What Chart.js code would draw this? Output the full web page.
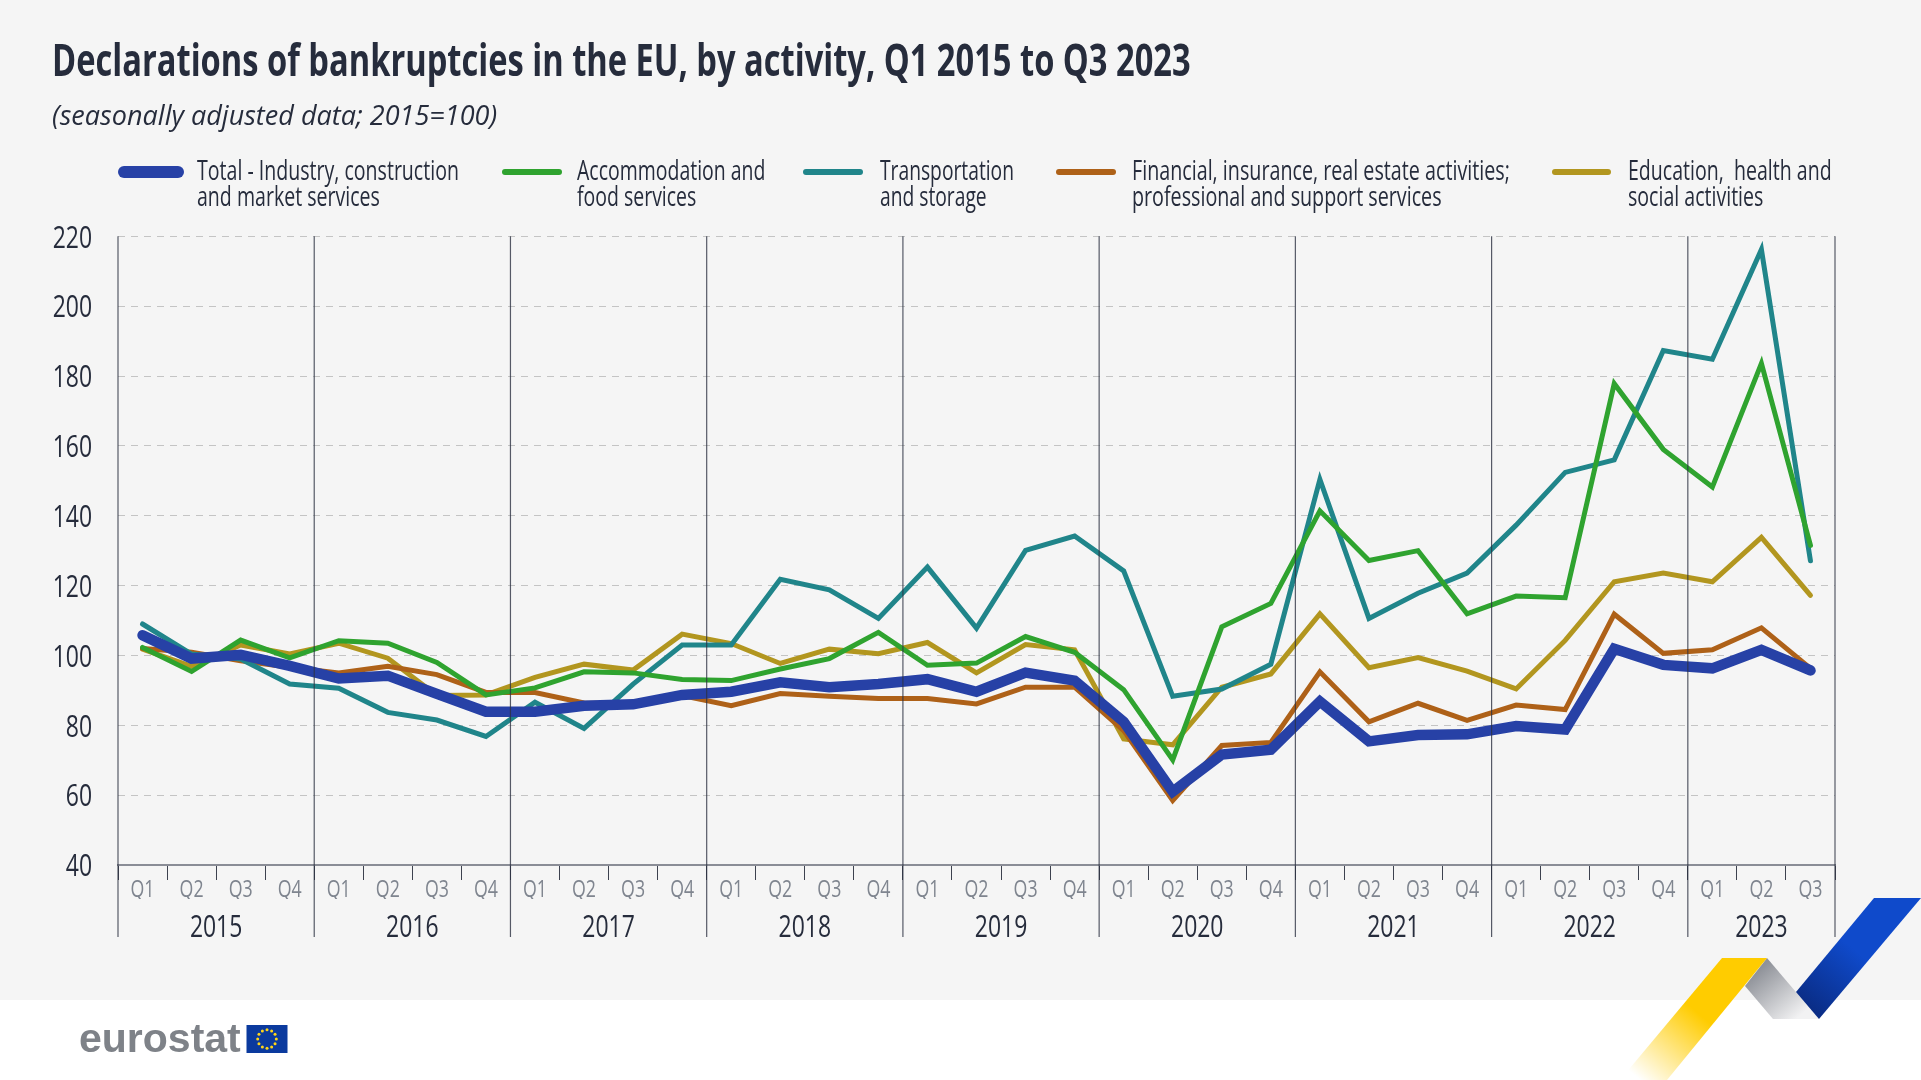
<!DOCTYPE html>
<html><head><meta charset="utf-8">
<script src="https://cdn.jsdelivr.net/npm/chart.js@4"></script>
<style>
html,body{margin:0;padding:0;width:1921px;height:1080px;overflow:hidden;background:#fff}
#bg{position:absolute;left:0;top:0;width:1921px;height:1000px;background:#f5f5f5}
canvas{position:absolute;left:0;top:0}
.t{position:absolute;white-space:pre;transform-origin:0 50%;font-family:"Open Sans",sans-serif;color:#262c3c}
#title{left:52px;top:29px;font-size:45px;font-weight:700;line-height:60px}
#sub{left:52px;top:95px;font-size:28px;font-style:italic;line-height:38px}
.leg{font-size:28px;line-height:26px;top:156px}
.sw{position:absolute;border-radius:6px}
#logo{position:absolute;left:79px;top:1015px;font:bold 41px/47px "Liberation Sans",sans-serif;color:#7e8288}
svg{position:absolute;left:0;top:0}
</style></head><body>
<div id="bg"></div>
<svg width="1921" height="1080" viewBox="0 0 1921 1080">
<defs>
<linearGradient id="gy" gradientUnits="userSpaceOnUse" x1="1745" y1="958" x2="1640" y2="1080"><stop offset="0" stop-color="#ffcc00"/><stop offset=".45" stop-color="#ffcc00"/><stop offset="1" stop-color="#ffcc00" stop-opacity="0"/></linearGradient>
<linearGradient id="gg" gradientUnits="userSpaceOnUse" x1="1756" y1="972" x2="1796" y2="1019"><stop offset="0" stop-color="#8f9299"/><stop offset="1" stop-color="#f2f2f3"/></linearGradient>
<linearGradient id="gb" gradientUnits="userSpaceOnUse" x1="1855" y1="950" x2="1808" y2="1006"><stop offset="0" stop-color="#0f4acb"/><stop offset="1" stop-color="#0a2d86"/></linearGradient>
</defs>
<polygon points="1767,958 1819,1019 1773,1019 1745,986" fill="url(#gg)"/>
<polygon points="1722,958 1767,958 1667,1080 1620,1080" fill="url(#gy)"/>
<polygon points="1874,898 1921,898 1819,1019 1796,992" fill="url(#gb)"/>
<rect x="246.5" y="1025" width="41" height="28" fill="#0b3a9e"/>
<g id="stars" fill="#ffd617"></g>
</svg>
<canvas id="c" width="1921" height="1080"></canvas>
<div class="t" id="title" data-w="1139">Declarations of bankruptcies in the EU, by activity, Q1 2015 to Q3 2023</div>
<div class="t" id="sub" data-w="445">(seasonally adjusted data; 2015=100)</div>
<div id="legend"></div>
<div id="logo">eurostat</div>
<script>
const quarterLabels=['Q1','Q2','Q3','Q4','Q1','Q2','Q3','Q4','Q1','Q2','Q3','Q4','Q1','Q2','Q3','Q4','Q1','Q2','Q3','Q4','Q1','Q2','Q3','Q4','Q1','Q2','Q3','Q4','Q1','Q2','Q3','Q4','Q1','Q2','Q3'];
const yearLabels=['2015','2016','2017','2018','2019','2020','2021','2022','2023'];
const yearCenters=[2,6,10,14,18,22,26,30,33.5];
const yearEdges=[0,4,8,12,16,20,24,28,32,35];
const total=[105.8,99.1,100.2,97,93.4,94.2,89,83.9,83.9,85.6,86,88.7,89.6,92.3,90.9,91.8,93.2,89.6,95.1,92.8,81,61,71.6,73,86.8,75.4,77.2,77.4,79.8,78.8,101.9,97.3,96.3,101.6,95.7];
const accommodation=[102.3,95.4,104.4,99.3,104.2,103.5,98,88.7,90.7,95.3,95,93.1,92.8,96.1,99.1,106.6,97.2,97.8,105.4,100.9,90.2,70.1,108.2,114.9,141.4,127.2,130,111.9,117,116.5,177.8,159,148.2,183.6,131.5];
const transportation=[109,100.4,99,91.8,90.6,83.7,81.5,76.8,86.6,79.1,91.8,103,103,121.8,118.8,110.6,125.3,107.8,130.1,134.2,124.2,88.3,90.4,97.5,150.4,110.6,117.8,123.6,137.3,152.4,156,187.3,184.8,216.2,127.1];
const financial=[102,100.9,98.5,96.6,95,96.9,94.5,89.4,89.4,86.4,86,88.5,85.6,89.1,88.3,87.7,87.7,86.1,90.9,90.9,78.5,58.5,74.2,75.1,95.3,81,86.3,81.4,85.8,84.5,111.8,100.6,101.6,107.9,96.3];
const education=[101.8,96.9,103,100.4,103.5,99.2,88.5,88.7,93.7,97.5,95.8,106.1,103.4,97.7,101.8,100.5,103.7,95,103.1,101.6,76.1,74.4,90.9,94.7,111.9,96.5,99.4,95.5,90.4,104.3,121.1,123.6,121.1,133.8,117.2];
const seriesLabels=[['Total - Industry, construction','and market services'],['Accommodation and','food services'],['Transportation','and storage'],['Financial, insurance, real estate activities;','professional and support services'],['Education,  health and','social activities']];
const seriesColors=['#2741a6','#2fa32f','#20858a','#ae6118','#b2961f'];
const seriesWidths=[10.5,5,5,5,5];
const seriesValues=[total,accommodation,transportation,financial,education];

// legend layout: swatch left, swatch width, text left, first-line width
const legendBoxes=[[118,66,197,262],[502,60,577,188.5],[803,60,880,134],[1056,60,1132,378],[1552,59,1628,204]];
const legend=document.getElementById('legend');
seriesLabels.forEach((lines,i)=>{
  const b=legendBoxes[i],h=i===0?12:6;
  const s=document.createElement('div');s.className='sw';
  s.style.cssText=`left:${b[0]}px;width:${b[1]}px;height:${h}px;top:${172-h/2}px;background:${seriesColors[i]}`;
  legend.appendChild(s);
  const t=document.createElement('div');t.className='t leg';t.textContent=lines.join('\n');
  t.style.left=b[2]+'px';legend.appendChild(t);
  const m=document.createElement('span');m.className='t leg';m.style.visibility='hidden';m.textContent=lines[0];legend.appendChild(m);
  t.style.transform=`scaleX(${b[3]/m.offsetWidth})`;
  m.remove();
});
document.querySelectorAll('[data-w]').forEach(e=>{e.style.transform=`scaleX(${e.dataset.w/e.offsetWidth})`});

// EU flag stars
const stars=document.getElementById('stars');
for(let i=0;i<12;i++){const a=i*Math.PI/6;
  const c=document.createElementNS('http://www.w3.org/2000/svg','circle');
  c.setAttribute('cx',267+9.3*Math.cos(a));c.setAttribute('cy',1039+9.3*Math.sin(a));c.setAttribute('r',1.5);stars.appendChild(c);}

const sansFont='"Open Sans",sans-serif';
const textCondense=0.74;
// the reference uses a condensed face: narrow every axis label around its anchor point
const condensed={id:'condensed',beforeDraw(ch){
  const ctx=ch.ctx; if(ctx._narrowed) return; ctx._narrowed=true;
  const fill=ctx.fillText.bind(ctx);
  ctx.fillText=(s,x,y,m)=>{
    ctx.save();
    ctx.translate(x,y+(ctx.textAlign==='right'?2.5:0));
    ctx.scale(textCondense,1);
    fill(s,0,0,m);
    ctx.restore();
  };
}};
const yearLines={id:'yearLines',afterDatasetsDraw(ch){
  const {ctx,chartArea:a,scales:{xYear}}=ch;
  ctx.save();ctx.strokeStyle='rgba(45,50,66,.8)';ctx.lineWidth=1.2;
  yearEdges.forEach(v=>{const x=xYear.getPixelForValue(v);ctx.beginPath();ctx.moveTo(x,a.top);ctx.lineTo(x,937);ctx.stroke();});
  ctx.restore();
}};
new Chart(document.getElementById('c'),{
  type:'line',
  data:{labels:quarterLabels,datasets:seriesValues.map((d,i)=>({label:seriesLabels[i].join(' '),data:d,borderColor:seriesColors[i],backgroundColor:seriesColors[i],borderWidth:seriesWidths[i],pointRadius:0,tension:0,borderCapStyle:'round',borderJoinStyle:'miter'}))},
  plugins:[condensed,yearLines],
  options:{responsive:false,animation:false,devicePixelRatio:1,
    layout:{padding:{left:0,top:236.3,right:86,bottom:135}},
    plugins:{legend:{display:false},tooltip:{enabled:false},title:{display:false}},
    scales:{
      y:{min:40,max:220,afterFit(s){s.width=118},
        ticks:{stepSize:20,padding:26,color:'#262c3c',font:{family:sansFont,size:31}},
        grid:{color:'#c4c4c4',lineWidth:1,drawTicks:false,tickLength:0},
        border:{display:false,dash:[7,6]}},
      x:{type:'category',offset:true,afterFit(s){s.height=34},
        grid:{offset:true,drawOnChartArea:false,drawTicks:true,tickLength:15,color:'#3d424f',lineWidth:1},
        border:{display:true,color:'#8a8d96',width:2},
        ticks:{autoSkip:false,maxRotation:0,padding:-4,color:'#7f858f',font:{family:sansFont,size:24}}},
      xYear:{type:'linear',axis:'x',position:'bottom',min:0,max:35,afterFit(s){s.height=46},
        afterBuildTicks(s){s.ticks=yearCenters.map(v=>({value:v}))},
        grid:{display:false},border:{display:false},
        ticks:{autoSkip:false,maxRotation:0,padding:3,color:'#262c3c',font:{family:sansFont,size:31},callback:v=>yearLabels[yearCenters.indexOf(v)]}}
    }}
});
</script>
</body></html>
